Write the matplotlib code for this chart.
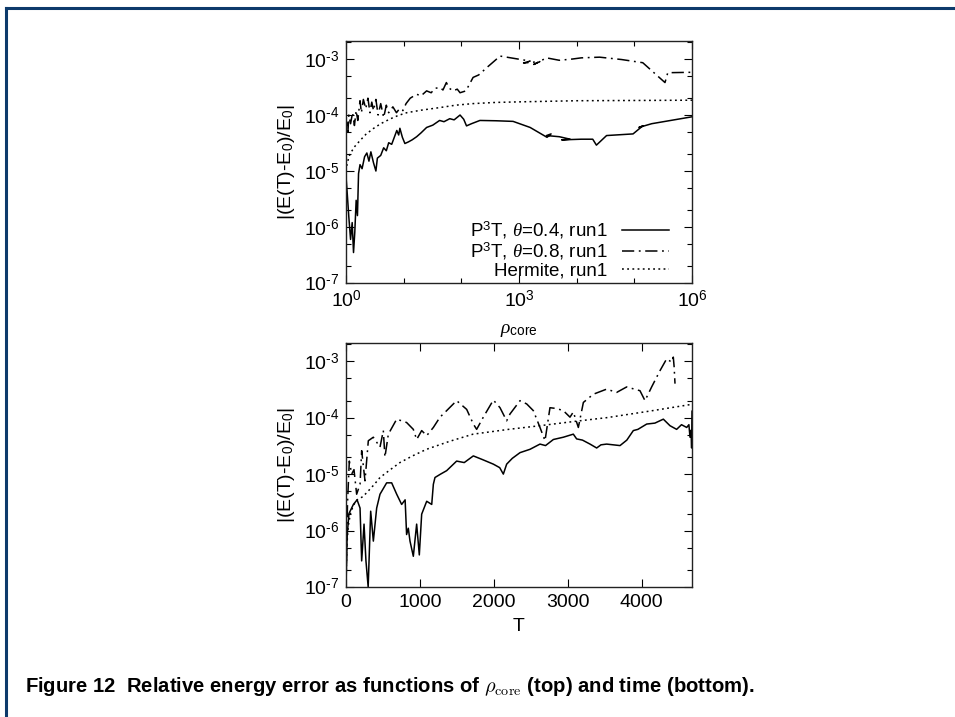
import numpy as np
import matplotlib
matplotlib.use("Agg")
import matplotlib.pyplot as plt
from matplotlib.ticker import FixedLocator, NullFormatter, FuncFormatter
from matplotlib.lines import Line2D

# ---------------------
# data
# ---------------------

# top panel: error vs rho_core
rho_04 = [1.0, 1.05, 1.12, 1.2, 1.28, 1.35, 1.42, 1.5, 1.58, 1.65, 1.75, 1.9, 2.1, 2.3, 2.5,
          2.7, 3.0, 3.3, 3.5, 4.0, 4.5, 5.0, 5.5, 6.2, 7.0, 7.6, 8.2, 8.6, 9.5, 10.5, 12, 14,
          16.8, 20, 25, 32, 42, 50, 63, 75, 95, 110, 123, 150, 210, 400, 790, 1560, 3060,
          3600, 3000, 5000, 7700, 5500, 12000, 19000, 22000, 33000, 95000, 140000, 120000,
          200000, 1e6]
err_04 = [8e-6, 4e-6, 1.5e-6, 6e-7, 1.2e-6, 3.5e-7, 8e-7, 3e-6, 1.6e-6, 9e-6, 1.3e-5, 1.1e-5,
          1.8e-5, 2.1e-5, 1.5e-5, 2.2e-5, 1.4e-5, 1.0e-5, 1.7e-5, 1.9e-5, 2.6e-5, 2.3e-5,
          3.2e-5, 3.0e-5, 4.2e-5, 5.3e-5, 4.4e-5, 5.8e-5, 4.0e-5, 3.1e-5, 3.3e-5, 3.6e-5,
          4.1e-5, 4.8e-5, 6.0e-5, 6.6e-5, 8.0e-5, 7.6e-5, 8.6e-5, 8.2e-5, 1.0e-4, 8.4e-5,
          6.4e-5, 7.0e-5, 8.0e-5, 7.9e-5, 7.7e-5, 6.0e-5, 4.0e-5, 4.6e-5, 4.3e-5, 4.1e-5,
          3.7e-5, 3.6e-5, 3.7e-5, 3.7e-5, 2.9e-5, 4.3e-5, 4.6e-5, 6.4e-5, 6.0e-5, 7.0e-5,
          9.3e-5]

rho_08 = [1.0, 1.04, 1.08, 1.12, 1.2, 1.3, 1.4, 1.5, 1.6, 1.75, 1.85, 2.0, 2.2, 2.4, 2.6,
          2.8, 3.0, 3.3, 3.6, 4.0, 4.5, 5.0, 5.5, 6.5, 7.5, 8.5, 9.7, 11, 13, 16.8, 20, 25,
          30, 35, 42.7, 48, 55, 62, 72, 85, 95, 120, 160, 200, 275, 470, 1560, 1200, 2300,
          1800, 3000, 5000, 8400, 12000, 25000, 60000, 140000, 340000, 380000, 1e6]
err_08 = [4.6e-5, 8e-5, 5e-5, 1e-4, 7e-5, 1.1e-4, 6.5e-5, 1.2e-4, 8e-5, 1.8e-4, 1.1e-4,
          1.9e-4, 1.3e-4, 2.0e-4, 1.1e-4, 1.7e-4, 1.2e-4, 1.9e-4, 1.0e-4, 1.6e-4, 9e-5,
          1.5e-4, 1.1e-4, 1.4e-4, 1.1e-4, 1.3e-4, 1.2e-4, 1.6e-4, 2.0e-4, 2.35e-4, 2.2e-4,
          2.7e-4, 2.5e-4, 3.0e-4, 3.1e-4, 2.8e-4, 3.8e-4, 3.0e-4, 2.7e-4, 2.9e-4, 2.5e-4,
          2.7e-4, 4.7e-4, 5.2e-4, 7.0e-4, 1.13e-3, 9.2e-4, 8.5e-4, 9.0e-4, 8.0e-4, 1.05e-3,
          9.5e-4, 1.0e-3, 1.05e-3, 1.08e-3, 9.8e-4, 8.6e-4, 3.8e-4, 5.7e-4, 5.8e-4]

rho_herm = [1.0, 1.05, 1.17, 1.4, 1.75, 2.2, 2.95, 4, 5.8, 8, 11.3, 20, 42.7, 80, 160, 400,
            1040, 10000, 1e6]
err_herm = [1.0e-5, 1.4e-5, 2.0e-5, 2.7e-5, 3.5e-5, 4.5e-5, 5.7e-5, 7e-5, 8.5e-5, 9.8e-5,
            1.1e-4, 1.22e-4, 1.36e-4, 1.5e-4, 1.6e-4, 1.68e-4, 1.72e-4, 1.8e-4, 1.84e-4]

# bottom panel: error vs time
t_04 = [0, 15, 40, 100, 150, 190, 212, 244, 270, 300, 334, 370, 415, 460, 550, 618, 686,
        753, 800, 820, 843, 866, 911, 956, 992, 1024, 1092, 1160, 1182, 1204, 1280, 1362,
        1430, 1497, 1600, 1723, 1850, 1994, 2080, 2129, 2174, 2250, 2355, 2490, 2625, 2700,
        2806, 2941, 3076, 3121, 3200, 3302, 3392, 3450, 3527, 3708, 3800, 3888, 3950, 4069,
        4180, 4294, 4384, 4474, 4540, 4610, 4640, 4655, 4670, 4677, 4682]
e_04 = [1e-7, 8e-7, 2e-6, 2.9e-6, 3.5e-6, 2.5e-6, 2.9e-7, 1.3e-6, 2.9e-7, 1e-7, 2.2e-6,
        6.5e-7, 2.5e-6, 4.4e-6, 7e-6, 7e-6, 4.4e-6, 2.9e-6, 3.5e-6, 8.5e-7, 1.1e-6, 6.5e-7,
        3.5e-7, 1.3e-6, 3.7e-7, 1.95e-6, 3.3e-6, 2.9e-6, 6.6e-6, 8.7e-6, 1.0e-5, 1.15e-5,
        1.4e-5, 1.7e-5, 1.6e-5, 2.1e-5, 1.8e-5, 1.5e-5, 1.3e-5, 1e-5, 1.5e-5, 1.9e-5, 2.4e-5,
        2.75e-5, 3.4e-5, 3.2e-5, 4.1e-5, 4.5e-5, 5.1e-5, 4.2e-5, 4.0e-5, 3.4e-5, 2.9e-5,
        3.3e-5, 3.4e-5, 3.2e-5, 4.0e-5, 5.9e-5, 6.2e-5, 7.7e-5, 8.0e-5, 9.4e-5, 7.2e-5,
        6.2e-5, 7.5e-5, 6.7e-5, 7.5e-5, 4.5e-5, 6.0e-5, 2.9e-5, 1.3e-4]

t_08 = [0, 20, 45, 77, 108, 144, 190, 212, 257, 302, 370, 460, 505, 527, 573, 686, 820, 911,
        956, 1024, 1092, 1182, 1272, 1362, 1497, 1633, 1723, 1768, 1858, 1994, 2084, 2174,
        2219, 2355, 2445, 2535, 2625, 2693, 2760, 2850, 2941, 3031, 3076, 3144, 3212, 3347,
        3527, 3663, 3798, 3978, 4046, 4136, 4249, 4339, 4407, 4429, 4440, 4452]
e_08 = [1e-7, 3e-6, 1.7e-5, 1e-5, 1.2e-5, 4.4e-6, 6.6e-6, 2.6e-5, 7.6e-6, 3.9e-5, 4.5e-5,
        3e-5, 5.9e-5, 2e-5, 5.1e-5, 9.4e-5, 8.2e-5, 6.2e-5, 4.1e-5, 5.9e-5, 4.8e-5, 6.7e-5,
        1.02e-4, 1.33e-4, 2e-4, 1.4e-4, 7.7e-5, 6.2e-5, 1.02e-4, 2.05e-4, 1.5e-4, 8.8e-5,
        1.16e-4, 2e-4, 1.75e-4, 1.33e-4, 6.7e-5, 3.9e-5, 1.5e-4, 1.45e-4, 1.33e-4, 1.02e-4,
        1.26e-4, 6.7e-5, 1.86e-4, 2.6e-4, 3.2e-4, 2.8e-4, 3.5e-4, 3.0e-4, 2.0e-4, 3.5e-4,
        6.8e-4, 1.1e-3, 9.6e-4, 1.18e-3, 8e-4, 4e-4]

t_herm = [0, 10, 30, 60, 100, 150, 230, 300, 380, 460, 600, 730, 900, 1090, 1400, 1720,
          2200, 2625, 3100, 3530, 4100, 4655]
e_herm = [1e-7, 5e-7, 1.2e-6, 2e-6, 2.8e-6, 3.5e-6, 4.0e-6, 5.0e-6, 6.5e-6, 8.7e-6, 1.2e-5,
          1.6e-5, 2.1e-5, 2.75e-5, 3.8e-5, 5.1e-5, 6.2e-5, 7.2e-5, 8.6e-5, 1.0e-4, 1.3e-4,
          1.7e-4]

labels = [r'P$^3$T, $\theta$=0.4, run1', r'P$^3$T, $\theta$=0.8, run1', 'Hermite, run1']

# ---------------------
# style
# ---------------------
plt.rcParams['font.family'] = ['Liberation Sans', 'DejaVu Sans']
plt.rcParams['mathtext.fontset'] = 'custom'
plt.rcParams['mathtext.rm'] = 'Liberation Sans'
plt.rcParams['mathtext.it'] = 'Liberation Serif:italic'
plt.rcParams['mathtext.bf'] = 'Liberation Sans:bold'

solid = dict(color='black', lw=1.1, linestyle='-')
dashdot = dict(color='black', lw=1.1, linestyle=(0, (8, 3, 1.2, 3)))
dotted = dict(color='black', lw=1.1, linestyle=(0, (1.2, 2.2)))

fs = 14


def pow10(v, pos):
    e = int(round(np.log10(v)))
    # gnuplot style: plain hyphen in the exponent
    return '10$^{%s}$' % str(e).replace('-', '\u2010')


def style_axes(ax):
    ax.tick_params(which='both', direction='in', top=True, right=True, labelsize=fs, pad=5)
    ax.tick_params(which='major', length=6, width=0.8)
    ax.tick_params(which='minor', length=3.5, width=0.8)
    for s in ax.spines.values():
        s.set_linewidth(1.0)
        s.set_color('#222222')
    ax.set_yscale('log')
    ax.set_ylim(1e-7, 2.1e-3)
    ax.yaxis.set_major_locator(FixedLocator([1e-7, 1e-6, 1e-5, 1e-4, 1e-3]))
    ax.yaxis.set_major_formatter(FuncFormatter(pow10))
    minors = [m * 10.0 ** k for k in range(-7, -2) for m in (2, 5)]
    ax.yaxis.set_minor_locator(FixedLocator(minors))
    ax.yaxis.set_minor_formatter(NullFormatter())
    ax.set_ylabel(r'|(E(T)-E$_0$)/E$_0$|', fontsize=fs, labelpad=5)


fig = plt.figure(figsize=(9.55, 7.17), dpi=100)

# top panel
ax1 = fig.add_axes([346 / 955, 1 - 283 / 717, 346 / 955, 242 / 717])
ax1.plot(rho_04, err_04, **solid, label=labels[0])
ax1.plot(rho_08, err_08, **dashdot, label=labels[1])
ax1.plot(rho_herm, err_herm, **dotted, label=labels[2])
ax1.set_xscale('log')
ax1.set_xlim(1, 1e6)
style_axes(ax1)
ax1.xaxis.set_major_locator(FixedLocator([1, 1e3, 1e6]))
ax1.xaxis.set_major_formatter(FuncFormatter(pow10))
ax1.xaxis.set_minor_locator(FixedLocator([10, 100, 1e4, 1e5]))
ax1.xaxis.set_minor_formatter(NullFormatter())
ax1.set_xlabel(r'$\rho_{\rm core}$', fontsize=fs, labelpad=8)
ax1.legend(loc='lower right', frameon=False, markerfirst=False, fontsize=13.5,
           handlelength=2.5, labelspacing=0.02, handletextpad=0.8, borderpad=0.1,
           borderaxespad=0.0, bbox_to_anchor=(0.94, 0.005))

# bottom panel
ax2 = fig.add_axes([346 / 955, 1 - 587 / 717, 346 / 955, 244 / 717])
ax2.plot(t_04, e_04, **solid)
ax2.plot(t_08, e_08, **dashdot)
ax2.plot(t_herm, e_herm, **dotted)
ax2.set_xlim(0, 4682)
style_axes(ax2)
ax2.set_xticks([0, 1000, 2000, 3000, 4000])
ax2.set_xlabel('T', fontsize=fs, labelpad=5)

# page frame and caption
fig.add_artist(Line2D([6 / 955, 6 / 955], [0, 1 - 8 / 717], color='#0d3a6b', lw=2.2,
                      transform=fig.transFigure))
fig.add_artist(Line2D([6 / 955, 1], [1 - 8 / 717, 1 - 8 / 717], color='#0d3a6b', lw=2.2,
                      transform=fig.transFigure))
fig.text(25 / 955, 1 - 686 / 717,
         r'Figure 12  Relative energy error as functions of $\rho_{\rm core}$ (top) and time (bottom).',
         fontsize=14.6, fontweight='bold', va='center', ha='left',
         family=['Liberation Sans', 'DejaVu Sans'], math_fontfamily='cm')

fig.savefig('out.png', dpi=100)
